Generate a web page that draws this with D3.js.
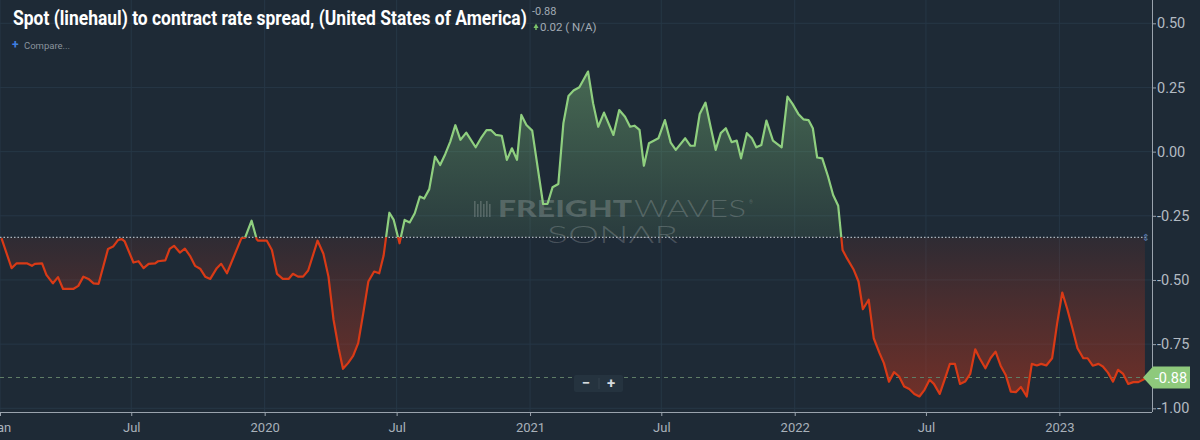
<!DOCTYPE html>
<html>
<head>
<meta charset="utf-8">
<script src="https://cdn.jsdelivr.net/npm/d3@7"></script>
<style>
  html, body { margin: 0; padding: 0; background: #1e2a36; overflow: hidden; }
  svg { display: block; }
</style>
</head>
<body>
<script>
        // weekly spread readings (spot linehaul minus contract)
        let dates = [
            "2019-01-03","2019-01-17","2019-01-24","2019-02-07","2019-02-14","2019-02-18","2019-02-28","2019-03-06",
            "2019-03-15","2019-03-22","2019-03-29","2019-04-12","2019-04-19","2019-04-26","2019-05-03","2019-05-10",
            "2019-05-17","2019-05-30","2019-06-06","2019-06-13","2019-06-18","2019-06-22","2019-07-04","2019-07-11",
            "2019-07-18","2019-07-25","2019-08-03","2019-08-07","2019-08-17","2019-08-23","2019-08-29","2019-09-06",
            "2019-09-13","2019-09-20","2019-09-27","2019-10-04","2019-10-11","2019-10-18","2019-10-27","2019-11-02",
            "2019-11-10","2019-11-30","2019-12-05","2019-12-14","2019-12-21","2019-12-23","2020-01-04","2020-01-11",
            "2020-01-18","2020-01-26","2020-02-03","2020-02-09","2020-02-16","2020-02-23","2020-03-01","2020-03-14",
            "2020-03-22","2020-03-29","2020-04-05","2020-04-12","2020-04-18","2020-04-25","2020-05-02","2020-05-09",
            "2020-05-16","2020-05-23","2020-05-31","2020-06-07","2020-06-13","2020-06-21","2020-06-27","2020-07-05",
            "2020-07-12","2020-07-19","2020-07-26","2020-08-02","2020-08-08","2020-08-15","2020-08-23","2020-08-30",
            "2020-09-06","2020-09-13","2020-09-20","2020-09-27","2020-10-05","2020-10-18","2020-10-26","2020-11-02",
            "2020-11-08","2020-11-15","2020-11-23","2020-11-30","2020-12-07","2020-12-14","2020-12-20","2020-12-27",
            "2021-01-04","2021-01-19","2021-01-25","2021-02-01","2021-02-09","2021-02-16","2021-02-23","2021-03-02",
            "2021-03-10","2021-03-22","2021-03-29","2021-04-05","2021-04-13","2021-04-26","2021-05-04","2021-05-12",
            "2021-05-19","2021-05-25","2021-06-01","2021-06-07","2021-06-14","2021-06-27","2021-07-06","2021-07-14",
            "2021-07-21","2021-08-03","2021-08-10","2021-08-16","2021-08-23","2021-08-31","2021-09-07","2021-09-14",
            "2021-09-21","2021-09-28","2021-10-06","2021-10-13","2021-10-19","2021-10-27","2021-11-03","2021-11-09",
            "2021-11-16","2021-11-23","2021-12-02","2021-12-14","2021-12-22","2021-12-29","2022-01-06","2022-01-13",
            "2022-01-20","2022-01-26","2022-02-01","2022-02-08","2022-02-16","2022-02-23","2022-03-02","2022-03-08",
            "2022-03-14","2022-03-23","2022-03-30","2022-04-05","2022-04-13","2022-04-20","2022-04-28","2022-05-04",
            "2022-05-11","2022-05-18","2022-05-25","2022-06-01","2022-06-08","2022-06-15","2022-06-22","2022-06-29",
            "2022-07-06","2022-07-12","2022-07-20","2022-07-27","2022-08-03","2022-08-10","2022-08-17","2022-08-24",
            "2022-08-31","2022-09-07","2022-09-13","2022-09-21","2022-09-28","2022-10-05","2022-10-12","2022-10-19",
            "2022-10-26","2022-11-02","2022-11-09","2022-11-17","2022-11-24","2022-12-01","2022-12-07","2022-12-14",
            "2022-12-22","2022-12-29","2023-01-05","2023-01-12","2023-01-19","2023-01-26","2023-02-03","2023-02-09",
            "2023-02-16","2023-02-24","2023-03-02","2023-03-09","2023-03-16","2023-03-23","2023-03-30","2023-04-06",
            "2023-04-13","2023-04-20","2023-04-29"
        ];
        let values = [
            -0.337,-0.454,-0.435,-0.435,-0.445,-0.437,-0.435,-0.480,
            -0.513,-0.489,-0.535,-0.535,-0.523,-0.487,-0.496,-0.513,
            -0.515,-0.379,-0.370,-0.344,-0.341,-0.350,-0.432,-0.427,
            -0.454,-0.437,-0.435,-0.427,-0.424,-0.379,-0.367,-0.393,
            -0.378,-0.406,-0.445,-0.456,-0.487,-0.496,-0.454,-0.437,
            -0.474,-0.337,-0.335,-0.269,-0.341,-0.347,-0.347,-0.383,
            -0.476,-0.496,-0.496,-0.476,-0.487,-0.487,-0.463,-0.347,
            -0.398,-0.487,-0.655,-0.766,-0.846,-0.824,-0.796,-0.746,
            -0.629,-0.506,-0.467,-0.474,-0.406,-0.238,-0.266,-0.357,
            -0.266,-0.276,-0.240,-0.175,-0.183,-0.146,-0.019,-0.052,
            -0.010,0.039,0.103,0.046,0.074,0.017,0.056,0.084,
            0.084,0.065,0.062,-0.032,0.013,-0.032,0.143,0.104,
            0.082,-0.204,-0.204,-0.139,-0.126,0.111,0.217,0.238,
            0.251,0.312,0.188,0.097,0.152,0.065,0.162,0.136,
            0.097,0.101,0.085,-0.055,0.033,0.052,0.123,0.035,
            0.007,0.052,0.023,0.023,0.147,0.191,0.097,0.007,
            0.072,0.091,0.037,0.043,-0.026,0.072,0.052,0.017,
            0.026,0.121,0.043,0.017,0.214,0.186,0.147,0.126,
            0.123,0.091,-0.023,-0.026,-0.097,-0.169,-0.211,-0.383,
            -0.415,-0.458,-0.506,-0.614,-0.577,-0.727,-0.785,-0.824,
            -0.896,-0.859,-0.876,-0.915,-0.925,-0.944,-0.954,-0.928,
            -0.889,-0.905,-0.944,-0.886,-0.827,-0.827,-0.905,-0.896,
            -0.866,-0.770,-0.805,-0.844,-0.805,-0.779,-0.834,-0.870,
            -0.935,-0.937,-0.917,-0.954,-0.827,-0.833,-0.827,-0.833,
            -0.805,-0.668,-0.549,-0.614,-0.688,-0.766,-0.805,-0.805,
            -0.834,-0.827,-0.837,-0.861,-0.896,-0.850,-0.866,-0.905,
            -0.898,-0.898,-0.885
        ];

        let baseline = -0.334;   // the dotted reference level where colours switch
        let lastValue = -0.88;

        let xTickDates = ["2019-01-01","2019-07-01","2020-01-01","2020-07-01","2021-01-01","2021-07-01","2022-01-01","2022-07-01","2023-01-01"];
        let xTickLabels = ["Jan","Jul","2020","Jul","2021","Jul","2022","Jul","2023"];
        let yTickValues = [0.5, 0.25, 0, -0.25, -0.5, -0.75, -1];
        let yTickLabels = ["0.50","0.25","0.00","-0.25","-0.50","-0.75","-1.00"];

        let parse = d3.timeParse("%Y-%m-%d");
        let data = dates.map((d, i) => ({date: parse(d), value: values[i]}));

        let width = 1200, height = 440;
        let svg = d3.select("body").append("svg")
            .attr("width", width)
            .attr("height", height);

        svg.append("rect").attr("width", width).attr("height", height).attr("fill", "#1e2a36");

        let x = d3.scaleTime()
            .domain([parse("2019-01-01"), parse("2023-05-06")])
            .range([0, 1150]);
        let y = d3.scaleLinear()
            .domain([-1, 0.5])
            .range([408.3, 23.3]);

        let axisX = 1152, axisY = 412;

        //gridlines
        svg.append("g").selectAll("line").data(yTickValues).join("line")
            .attr("x1", 0).attr("x2", axisX)
            .attr("y1", d => y(d)).attr("y2", d => y(d))
            .attr("stroke", "#263746").attr("stroke-width", 1);
        svg.append("g").selectAll("line").data(xTickDates).join("line")
            .attr("x1", d => x(parse(d))).attr("x2", d => x(parse(d)))
            .attr("y1", 0).attr("y2", axisY)
            .attr("stroke", "#263746").attr("stroke-width", 1);

        //gradients
        let defs = svg.append("defs");
        let gGreen = defs.append("linearGradient").attr("id", "gGreen")
            .attr("gradientUnits", "userSpaceOnUse")
            .attr("x1", 0).attr("x2", 0).attr("y1", y(0.32)).attr("y2", y(baseline));
        gGreen.append("stop").attr("offset", "0%").attr("stop-color", "#7fbf7a").attr("stop-opacity", 0.42);
        gGreen.append("stop").attr("offset", "100%").attr("stop-color", "#7fbf7a").attr("stop-opacity", 0.12);
        let gRed = defs.append("linearGradient").attr("id", "gRed")
            .attr("gradientUnits", "userSpaceOnUse")
            .attr("x1", 0).attr("x2", 0).attr("y1", y(baseline)).attr("y2", y(-0.96));
        gRed.append("stop").attr("offset", "0%").attr("stop-color", "#c2361b").attr("stop-opacity", 0.1);
        gRed.append("stop").attr("offset", "100%").attr("stop-color", "#c2361b").attr("stop-opacity", 0.5);

        defs.append("clipPath").attr("id", "above").append("rect")
            .attr("x", 0).attr("y", 0).attr("width", axisX).attr("height", y(baseline));
        defs.append("clipPath").attr("id", "below").append("rect")
            .attr("x", 0).attr("y", y(baseline)).attr("width", axisX).attr("height", axisY - y(baseline));

        let area = d3.area()
            .x(d => x(d.date))
            .y0(y(baseline))
            .y1(d => y(d.value));
        let line = d3.line()
            .x(d => x(d.date))
            .y(d => y(d.value));

        svg.append("path").datum(data).attr("d", area)
            .attr("fill", "url(#gGreen)").attr("clip-path", "url(#above)");
        svg.append("path").datum(data).attr("d", area)
            .attr("fill", "url(#gRed)").attr("clip-path", "url(#below)");

        //watermark
        let wm = svg.append("g").attr("fill", "#ffffff").attr("fill-opacity", 0.19);
        for (var i = 0; i < 6; i++) {
            wm.append("rect")
                .attr("x", 474 + i * 3).attr("y", 201 + (i % 2) * 3)
                .attr("width", 1.6).attr("height", 16 - (i % 2) * 3);
        }
        wm.append("text").attr("x", 498).attr("y", 217)
            .attr("font-family", "Lato, 'Open Sans', sans-serif").attr("font-weight", 900)
            .attr("font-size", 23).attr("textLength", 134).attr("lengthAdjust", "spacingAndGlyphs")
            .text("FREIGHT");
        wm.append("text").attr("x", 634).attr("y", 217)
            .attr("font-family", "Lato, 'Open Sans', sans-serif").attr("font-weight", 300)
            .attr("font-size", 23).attr("textLength", 112).attr("lengthAdjust", "spacingAndGlyphs")
            .text("WAVES");
        wm.append("text").attr("x", 749).attr("y", 204).attr("font-size", 5)
            .attr("font-family", "Roboto, sans-serif").text("®");
        wm.append("text").attr("x", 547).attr("y", 243)
            .attr("font-family", "Lato, 'Open Sans', sans-serif").attr("font-weight", 300)
            .attr("font-size", 23).attr("textLength", 131).attr("lengthAdjust", "spacingAndGlyphs")
            .text("SONAR");

        //reference lines
        svg.append("line")
            .attr("x1", 0).attr("x2", axisX - 6)
            .attr("y1", y(baseline)).attr("y2", y(baseline))
            .attr("stroke", "#aab3bd").attr("stroke-width", 1.2)
            .attr("stroke-dasharray", "1.5,2");
        svg.append("line")
            .attr("x1", 0).attr("x2", axisX)
            .attr("y1", y(lastValue)).attr("y2", y(lastValue))
            .attr("stroke", "#5f7d66").attr("stroke-width", 1)
            .attr("stroke-dasharray", "4,4");

        //the line itself, green above the reference level and red below
        svg.append("path").datum(data).attr("d", line)
            .attr("fill", "none").attr("stroke", "#8fcf7f").attr("stroke-width", 2.2)
            .attr("stroke-linejoin", "round").attr("clip-path", "url(#above)");
        svg.append("path").datum(data).attr("d", line)
            .attr("fill", "none").attr("stroke", "#d93a16").attr("stroke-width", 2.2)
            .attr("stroke-linejoin", "round").attr("clip-path", "url(#below)");

        //little drag marker at the end of the dotted line
        svg.append("text").attr("x", 1146).attr("y", y(baseline) + 4)
            .attr("text-anchor", "middle").attr("font-size", 10)
            .attr("fill", "#5675a8").attr("font-family", "DejaVu Sans").text("⇕");

        //axes
        let xAxis = d3.axisBottom(x)
            .tickValues(xTickDates.map(parse))
            .tickFormat((d, i) => xTickLabels[i])
            .tickSizeOuter(0).tickSize(4).tickPadding(7);
        let gx = svg.append("g").attr("transform", `translate(0,${axisY})`).call(xAxis);
        gx.select(".domain").attr("d", `M0,0.5H${axisX}`).attr("stroke", "#9aa3ad");
        gx.selectAll(".tick line").attr("stroke", "#9aa3ad");
        gx.selectAll("text").attr("fill", "#a9b1ba").attr("font-size", 13)
            .attr("font-family", "Roboto, sans-serif");

        let yAxis = d3.axisRight(y)
            .tickValues(yTickValues)
            .tickFormat((d, i) => yTickLabels[i])
            .tickSizeOuter(0).tickSize(4).tickPadding(1);
        let gy = svg.append("g").attr("transform", `translate(${axisX},0)`).call(yAxis);
        gy.select(".domain").attr("d", `M0.5,0V${axisY}`).attr("stroke", "#9aa3ad");
        gy.selectAll(".tick line").attr("stroke", "#9aa3ad");
        gy.selectAll("text").attr("fill", "#b3bac2").attr("font-size", 14.5)
            .attr("font-family", "Roboto, sans-serif");

        //last value flag
        let fy = y(lastValue);
        svg.append("path")
            .attr("d", `M1143,${fy} L1153,${fy - 11} H1190 V${fy + 11} H1153 Z`)
            .attr("fill", "#8ec97c");
        svg.append("text").attr("x", 1171).attr("y", fy + 5)
            .attr("text-anchor", "middle").attr("fill", "#ffffff")
            .attr("font-size", 14.5).attr("font-family", "Roboto, sans-serif")
            .text(lastValue.toFixed(2));

        //zoom buttons
        svg.append("rect").attr("x", 574).attr("y", 375).attr("width", 49).attr("height", 17)
            .attr("rx", 2).attr("fill", "#25333f");
        svg.append("line").attr("x1", 599).attr("x2", 599).attr("y1", 378).attr("y2", 389)
            .attr("stroke", "#34434f");
        svg.append("text").attr("x", 586).attr("y", 388).attr("text-anchor", "middle")
            .attr("fill", "#d5dade").attr("font-size", 15).attr("font-weight", 700)
            .attr("font-family", "Roboto, sans-serif").text("−");
        svg.append("text").attr("x", 611).attr("y", 388).attr("text-anchor", "middle")
            .attr("fill", "#d5dade").attr("font-size", 15).attr("font-weight", 700)
            .attr("font-family", "Roboto, sans-serif").text("+");

        //header texts - title squeezed horizontally to look like the condensed face
        let title = svg.append("text")
            .attr("fill", "#ffffff").attr("font-weight", 700).attr("font-size", 19.5)
            .attr("font-family", "Roboto, sans-serif")
            .text("Spot (linehaul) to contract rate spread, (United States of America)");
        let natural = title.node().getComputedTextLength();
        title.attr("transform", `translate(13,25) scale(${514 / natural},1)`);

        svg.append("text").attr("x", 532).attr("y", 15)
            .attr("fill", "#a2abb4").attr("font-size", 11).attr("font-family", "Roboto, sans-serif")
            .text(lastValue.toFixed(2));
        svg.append("path").attr("d", "M533.5,28 L536,23.5 L538.5,28 Z").attr("fill", "#7cc46a");
        svg.append("rect").attr("x", 535.3).attr("y", 27.5).attr("width", 1.4).attr("height", 2.5).attr("fill", "#7cc46a");
        svg.append("text").attr("x", 540).attr("y", 30.5)
            .attr("fill", "#a2abb4").attr("font-size", 11.5).attr("font-family", "Roboto, sans-serif")
            .text("0.02 ( N/A)");
        svg.append("text").attr("x", 12).attr("y", 49)
            .attr("fill", "#3f7fe0").attr("font-size", 12).attr("font-weight", 700)
            .attr("font-family", "Roboto, sans-serif").text("+");
        svg.append("text").attr("x", 24).attr("y", 49)
            .attr("fill", "#8a939c").attr("font-size", 9.5).attr("font-family", "Roboto, sans-serif")
            .text("Compare...");
</script>
</body>
</html>
